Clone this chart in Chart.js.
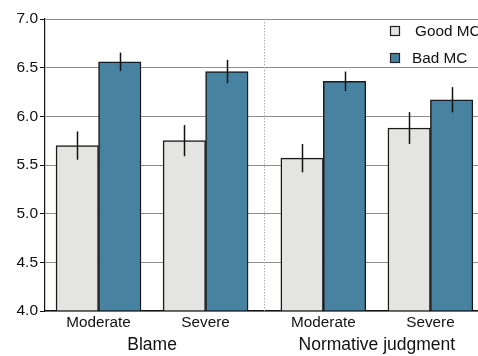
<!DOCTYPE html>
<html>
<head>
<meta charset="utf-8">
<script src="https://cdn.jsdelivr.net/npm/chart.js@4.4.1/dist/chart.umd.min.js"></script>
<style>
  html, body { margin: 0; padding: 0; background: #fff; }
  #wrap { width: 478px; height: 356px; overflow: hidden; position: relative; }
  canvas { display: block; }
</style>
</head>
<body>
<div id="wrap"><canvas id="c" width="500" height="356"></canvas></div>
<script>
// ---- data ----
const categories = ['Moderate', 'Severe', 'Moderate', 'Severe'];
const groupLabels = ['Blame', 'Normative judgment'];
const seriesNames = ['Good MC', 'Bad MC'];
const goodMeans = [5.70, 5.75, 5.57, 5.88];
const badMeans  = [6.56, 6.46, 6.36, 6.17];
const goodErr   = [0.145, 0.160, 0.145, 0.163];
const badErr    = [0.095, 0.120, 0.100, 0.130];
const yTickValues = [4.0, 4.5, 5.0, 5.5, 6.0, 6.5, 7.0];

// ---- layout (not data) ----
const xSlots = [1, 2, 3.1, 4.1];
const FONT = "'Liberation Sans', Arial, sans-serif";
const colors = ['#e4e4e2', '#4783a1'];
const errs = [goodErr, badErr];

const errorBarPlugin = {
  id: 'errorBars',
  afterDatasetsDraw(chart) {
    const ctx = chart.ctx, ys = chart.scales.y;
    ctx.save();
    ctx.strokeStyle = '#111';
    ctx.lineWidth = 1.5;
    chart.data.datasets.forEach((ds, d) => {
      const meta = chart.getDatasetMeta(d);
      meta.data.forEach((bar, i) => {
        const v = ds.data[i].y, e = errs[d][i];
        ctx.beginPath();
        ctx.moveTo(Math.round(bar.x) + 0.5, ys.getPixelForValue(v + e));
        ctx.lineTo(Math.round(bar.x) + 0.5, ys.getPixelForValue(v - e));
        ctx.stroke();
      });
    });
    ctx.restore();
  }
};

const dividerPlugin = {
  id: 'divider',
  beforeDatasetsDraw(chart) {
    const ctx = chart.ctx, xs = chart.scales.x, a = chart.chartArea;
    const x = Math.round(xs.getPixelForValue((xSlots[1] + xSlots[2]) / 2)) + 0.5;
    ctx.save();
    ctx.strokeStyle = '#b0b0b0';
    ctx.lineWidth = 1;
    ctx.setLineDash([1.5, 1.5]);
    ctx.beginPath();
    ctx.moveTo(x, a.top);
    ctx.lineTo(x, a.bottom);
    ctx.stroke();
    ctx.restore();
  }
};

const extrasPlugin = {
  id: 'extras',
  afterDraw(chart) {
    const ctx = chart.ctx, xs = chart.scales.x;
    ctx.save();
    // group labels
    ctx.fillStyle = '#111';
    ctx.font = '17.5px ' + FONT;
    ctx.textAlign = 'center';
    ctx.textBaseline = 'alphabetic';
    groupLabels.forEach((g, k) => {
      const cx = (xs.getPixelForValue(xSlots[2 * k]) + xs.getPixelForValue(xSlots[2 * k + 1])) / 2;
      ctx.fillText(g, cx, 350);
    });
    // legend
    const items = [
      { sx: 395, sy: 31, tx: 415 },
      { sx: 395, sy: 58, tx: 412 }
    ];
    ctx.font = '15.3px ' + FONT;
    ctx.textAlign = 'left';
    ctx.textBaseline = 'middle';
    chart.data.datasets.forEach((ds, d) => {
      const it = items[d];
      ctx.fillStyle = ds.backgroundColor;
      ctx.fillRect(it.sx - 4.5, it.sy - 4.5, 9, 9);
      ctx.strokeStyle = '#222';
      ctx.lineWidth = 1.2;
      ctx.strokeRect(it.sx - 4.5, it.sy - 4.5, 9, 9);
      ctx.fillStyle = '#111';
      ctx.fillText(ds.label, it.tx, it.sy + 1);
    });
    ctx.restore();
  }
};

const datasets = [goodMeans, badMeans].map((arr, d) => ({
  label: seriesNames[d],
  data: arr.map((v, i) => ({ x: xSlots[i], y: v })),
  backgroundColor: colors[d],
  borderColor: '#1a1a1a',
  borderWidth: 1.5,
  borderSkipped: 'start',
  barThickness: 42.5,
  base: 4
}));

new Chart(document.getElementById('c'), {
  type: 'bar',
  data: { datasets },
  options: {
    responsive: false,
    animation: false,
    layout: { padding: { top: 19, left: 0, right: 0, bottom: 0 } },
    plugins: { legend: { display: false }, tooltip: { enabled: false } },
    scales: {
      x: {
        type: 'linear',
        offset: false,
        min: 0.5,
        max: 4.75,
        grid: { display: false, drawTicks: false, offset: false },
        border: { display: true, color: '#111', width: 1.2 },
        afterBuildTicks(scale) { scale.ticks = xSlots.map(v => ({ value: v })); },
        afterFit(scale) { scale.height = 45; },
        ticks: {
          autoSkip: false,
          maxRotation: 0,
          padding: 3,
          color: '#111',
          font: { family: FONT, size: 15.3 },
          callback: (value, index) => categories[index]
        }
      },
      y: {
        min: 4,
        max: 7,
        afterBuildTicks(scale) { scale.ticks = yTickValues.map(v => ({ value: v })); },
        afterFit(scale) { scale.width = 45; },
        grid: { color: '#8e8e8e', lineWidth: 1, tickColor: '#111', tickLength: 5 },
        border: { display: true, color: '#111', width: 1.2 },
        ticks: {
          padding: 2,
          color: '#111',
          font: { family: FONT, size: 15.5 },
          callback: v => Number(v).toFixed(1)
        }
      }
    }
  },
  plugins: [dividerPlugin, errorBarPlugin, extrasPlugin]
});
</script>
</body>
</html>
